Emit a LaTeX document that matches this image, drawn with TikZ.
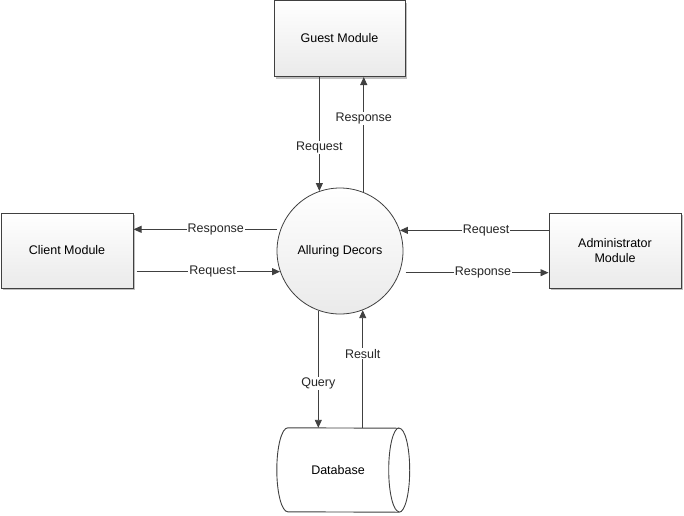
\documentclass[tikz,border=0pt]{standalone}
\usepackage{fontspec}
\setmainfont{Liberation Sans}
\usetikzlibrary{arrows.meta,shadows}
\definecolor{edge}{HTML}{404040}
\definecolor{shadeb}{HTML}{EAEAEA}
\tikzset{
  module/.style={draw=edge, line width=1pt, top color=white, bottom color=shadeb,
    drop shadow={shadow xshift=2pt, shadow yshift=-2pt, fill=black!25, opacity=1},
    minimum width=132pt, minimum height=75pt, align=center, inner sep=0pt,
    font=\fontsize{12.5}{15}\selectfont},
  process/.style={circle, draw=edge, line width=0.8pt, top color=white, bottom color=shadeb,
    minimum size=126pt, inner sep=0pt, font=\fontsize{12.5}{15}\selectfont},
  flow/.style={draw=edge, line width=0.9pt, -{Triangle[length=8pt,width=7pt]}},
  lab/.style={fill=white, inner sep=1pt, font=\fontsize{12.5}{15}\selectfont, text=black!85}
}
\begin{document}
\begin{tikzpicture}[x=1pt,y=-1pt]
\useasboundingbox (0,0) rectangle (684,515);

% external entities and the central process
\node[module, minimum width=131pt, minimum height=76pt] (guest) at (339.5,38.5) {Guest Module};
\node[module] (client) at (67,250.5) {Client Module};
\node[module] (admin) at (615,250.5) {Administrator\\Module};
\node[process] (hub) at (340,251) {Alluring Decors};

% data store: horizontal cylinder, outline first, label on top
\node[minimum width=122pt, minimum height=84pt, inner sep=0pt] (db) at (338,470) {};
\begin{scope}[draw=edge, line width=0.9pt]
  \path[fill=white, draw] ([xshift=11pt]db.north west)
     arc[start angle=90, end angle=270, x radius=11pt, y radius=42pt]
     -- (db.south east)
     arc[start angle=-90, end angle=90, x radius=10.5pt, y radius=42pt]
     -- cycle;
  \draw (db.north east)
     arc[start angle=90, end angle=270, x radius=10.5pt, y radius=42pt];
\end{scope}
\node[font=\fontsize{12.5}{15}\selectfont, inner sep=0pt] (dbtext) at (db.center) {Database};

% guest flows
\draw[flow] (hub.109.5 |- guest.south) -- (hub.109.5)
  node[lab, pos=0.62] {Request};
\draw[flow] (hub.68.6) -- (hub.68.6 |- guest.south)
  node[lab, pos=0.64] {Response};

% client flows
\draw[flow, shorten <=3.5pt] (hub.160.5) -- (hub.160.5 -| client.east)
  node[lab, pos=0.44] {Response};
\draw[flow, shorten <=3pt] (client.east |- hub.199.3) -- (hub.199.3)
  node[lab, pos=0.54] {Request};

% administrator flows
\draw[flow] (admin.west |- hub.19.5) -- (hub.19.5)
  node[lab, pos=0.42] {Request};
\draw[flow, shorten <=6pt] (hub.340.7) -- (hub.340.7 -| admin.west)
  node[lab, pos=0.56] {Response};

% database flows
\draw[flow] (hub.250.5) -- (hub.250.5 |- db.north)
  node[lab, pos=0.62] {Query};
\draw[flow] (hub.291.4 |- db.north) -- (hub.291.4)
  node[lab, pos=0.63] {Result};
\end{tikzpicture}
\end{document}
